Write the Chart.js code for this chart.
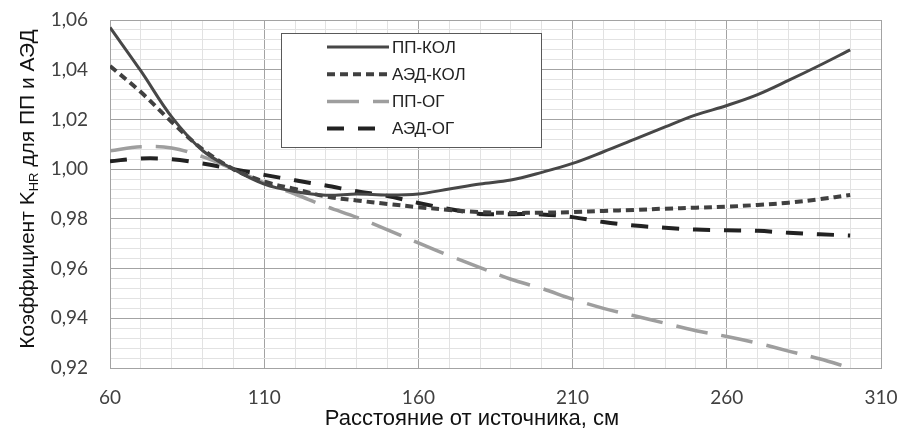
<!DOCTYPE html>
<html>
<head>
<meta charset="utf-8">
<script src="https://cdn.jsdelivr.net/npm/chart.js@4.4.1/dist/chart.umd.min.js"></script>
<style>
  html, body { margin: 0; padding: 0; background: #fff; }
  #wrap { width: 902px; height: 429px; }
</style>
</head>
<body>
<div id="wrap"><canvas id="chart" width="902" height="429"></canvas></div>
<script>
// расстояние от источника, см
var distance = [60, 70, 80, 90, 100, 110, 120, 130, 140, 150, 160, 170, 180,
                190, 200, 210, 220, 230, 240, 250, 260, 270, 280, 290, 300];

var ppKol  = [1.057, 1.0395, 1.021, 1.0075, 1.000, 0.994, 0.991, 0.9895, 0.990, 0.9896,
              0.990, 0.992, 0.994, 0.9956, 0.9987, 1.0023, 1.007, 1.012, 1.017, 1.0218,
              1.0256, 1.030, 1.0357, 1.0417, 1.048];
var aedKol = [1.0415, 1.031, 1.019, 1.008, 1.000, 0.995, 0.992, 0.989, 0.9874, 0.986,
              0.9847, 0.9836, 0.9827, 0.9824, 0.9825, 0.9827, 0.9832, 0.9836, 0.9841, 0.9845,
              0.9849, 0.9856, 0.9865, 0.9879, 0.9896];
var ppOg   = [1.0074, 1.009, 1.0085, 1.005, 1.000, 0.9945, 0.990, 0.985, 0.9806, 0.9756,
              0.9703, 0.9652, 0.9604, 0.9557, 0.952, 0.9477, 0.944, 0.941, 0.938, 0.935,
              0.9327, 0.930, 0.9268, 0.9237, 0.920];
var aedOg  = [1.0032, 1.0043, 1.004, 1.0023, 1.000, 0.9977, 0.9955, 0.9934, 0.9911, 0.9892,
              0.9864, 0.984, 0.982, 0.9819, 0.9818, 0.9807, 0.9787, 0.9773, 0.9764, 0.9757,
              0.9754, 0.9752, 0.9744, 0.9738, 0.9733];

var xTicks = [60, 110, 160, 210, 260, 310];
var yTicks = [0.92, 0.94, 0.96, 0.98, 1.00, 1.02, 1.04, 1.06];

var seriesNames = ['ПП-КОЛ', 'АЭД-КОЛ', 'ПП-ОГ', 'АЭД-ОГ'];
var xTitle = 'Расстояние от источника, см';

function points(values) {
  return distance.map(function (d, i) { return { x: d, y: values[i] }; });
}

function isMajorX(v) { return xTicks.indexOf(Math.round(v)) !== -1; }
function isMajorY(v) {
  return yTicks.some(function (t) { return Math.abs(t - v) < 1e-6; });
}

var tickFont = { family: 'Lato', size: 19 };
var MAJOR = '#a3a3a3', MINOR = '#e2e2e2';

// legend box drawn inside the plot, Excel-style
var boxLegend = {
  id: 'boxLegend',
  afterDatasetsDraw: function (chart) {
    var ctx = chart.ctx;
    var x0 = 281, y0 = 33, w = 260, h = 114;
    ctx.save();
    ctx.fillStyle = '#fff';
    ctx.fillRect(x0, y0, w, h);
    ctx.strokeStyle = '#595959';
    ctx.lineWidth = 1;
    ctx.strokeRect(x0 + 0.5, y0 + 0.5, w, h);
    ctx.font = '17px "Liberation Sans", Arial, sans-serif';
    ctx.textBaseline = 'middle';
    chart.data.datasets.forEach(function (ds, i) {
      var y = 47 + i * 27.2;
      ctx.strokeStyle = ds.borderColor;
      ctx.lineWidth = ds.borderWidth;
      ctx.setLineDash(ds.borderDash || []);
      ctx.beginPath();
      ctx.moveTo(327, y);
      ctx.lineTo(389, y);
      ctx.stroke();
      ctx.setLineDash([]);
      ctx.fillStyle = '#222';
      ctx.fillText(ds.label, 392, y + 1);
    });
    ctx.restore();
  }
};

// axis titles; the y title carries a subscript
var axisTitles = {
  id: 'axisTitles',
  afterDraw: function (chart) {
    var ctx = chart.ctx;
    ctx.save();
    ctx.fillStyle = '#111';
    ctx.textBaseline = 'alphabetic';
    var xFont = '22px "Liberation Sans", Arial, sans-serif';
    var big = '21px "Liberation Sans", Arial, sans-serif';
    var small = '13px "Liberation Sans", Arial, sans-serif';

    ctx.font = xFont;
    ctx.textAlign = 'center';
    ctx.fillText(xTitle, 472, 425);

    var a = 'Коэффициент K', sub = 'HR', b = ' для ПП и АЭД';
    ctx.font = big; var wa = ctx.measureText(a).width, wb = ctx.measureText(b).width;
    ctx.font = small; var ws = ctx.measureText(sub).width;
    var total = wa + ws + wb;
    ctx.translate(34, 189);
    ctx.rotate(-Math.PI / 2);
    ctx.textAlign = 'left';
    var sx = -total / 2;
    ctx.font = big; ctx.fillText(a, sx, 0);
    ctx.font = small; ctx.fillText(sub, sx + wa, 4);
    ctx.font = big; ctx.fillText(b, sx + wa + ws, 0);
    ctx.restore();
  }
};

var chart = new Chart(document.getElementById('chart').getContext('2d'), {
  type: 'line',
  data: {
    datasets: [
      {
        label: seriesNames[0],
        data: points(ppKol),
        borderColor: '#474747',
        borderWidth: 3
      }, {
        label: seriesNames[1],
        data: points(aedKol),
        borderColor: '#404040',
        borderWidth: 4,
        borderDash: [8, 5]
      }, {
        label: seriesNames[2],
        data: points(ppOg),
        borderColor: '#9e9e9e',
        borderWidth: 3.5,
        borderDash: [32, 14]
      }, {
        label: seriesNames[3],
        data: points(aedOg),
        borderColor: '#222222',
        borderWidth: 4,
        borderDash: [17, 14]
      }
    ]
  },
  options: {
    responsive: false,
    animation: false,
    layout: { padding: { left: 0, right: 21, top: 20, bottom: 0 } },
    elements: {
      point: { radius: 0 },
      line: { tension: 0.35, fill: false }
    },
    plugins: {
      legend: { display: false },
      tooltip: { enabled: false }
    },
    scales: {
      x: {
        type: 'linear',
        min: 60,
        max: 310,
        afterFit: function (s) { s.height = 61; },
        border: { color: MAJOR },
        grid: {
          tickLength: 18,
          tickColor: 'rgba(0,0,0,0)',
          color: function (c) { return isMajorX(c.tick.value) ? MAJOR : MINOR; }
        },
        ticks: {
          stepSize: 10,
          autoSkip: false,
          maxRotation: 0,
          padding: 0,
          color: '#404040',
          font: tickFont,
          callback: function (v) { return isMajorX(v) ? String(v) : ''; }
        }
      },
      y: {
        min: 0.92,
        max: 1.06,
        afterFit: function (s) { s.width = 110; },
        border: { color: MAJOR },
        grid: {
          tickLength: 22,
          tickColor: 'rgba(0,0,0,0)',
          color: function (c) { return isMajorY(c.tick.value) ? MAJOR : MINOR; }
        },
        ticks: {
          stepSize: 0.004,
          autoSkip: false,
          padding: 0,
          color: '#404040',
          font: tickFont,
          callback: function (v) { return isMajorY(v) ? v.toFixed(2).replace('.', ',') : ''; }
        }
      }
    }
  },
  plugins: [boxLegend, axisTitles]
});
</script>
</body>
</html>
